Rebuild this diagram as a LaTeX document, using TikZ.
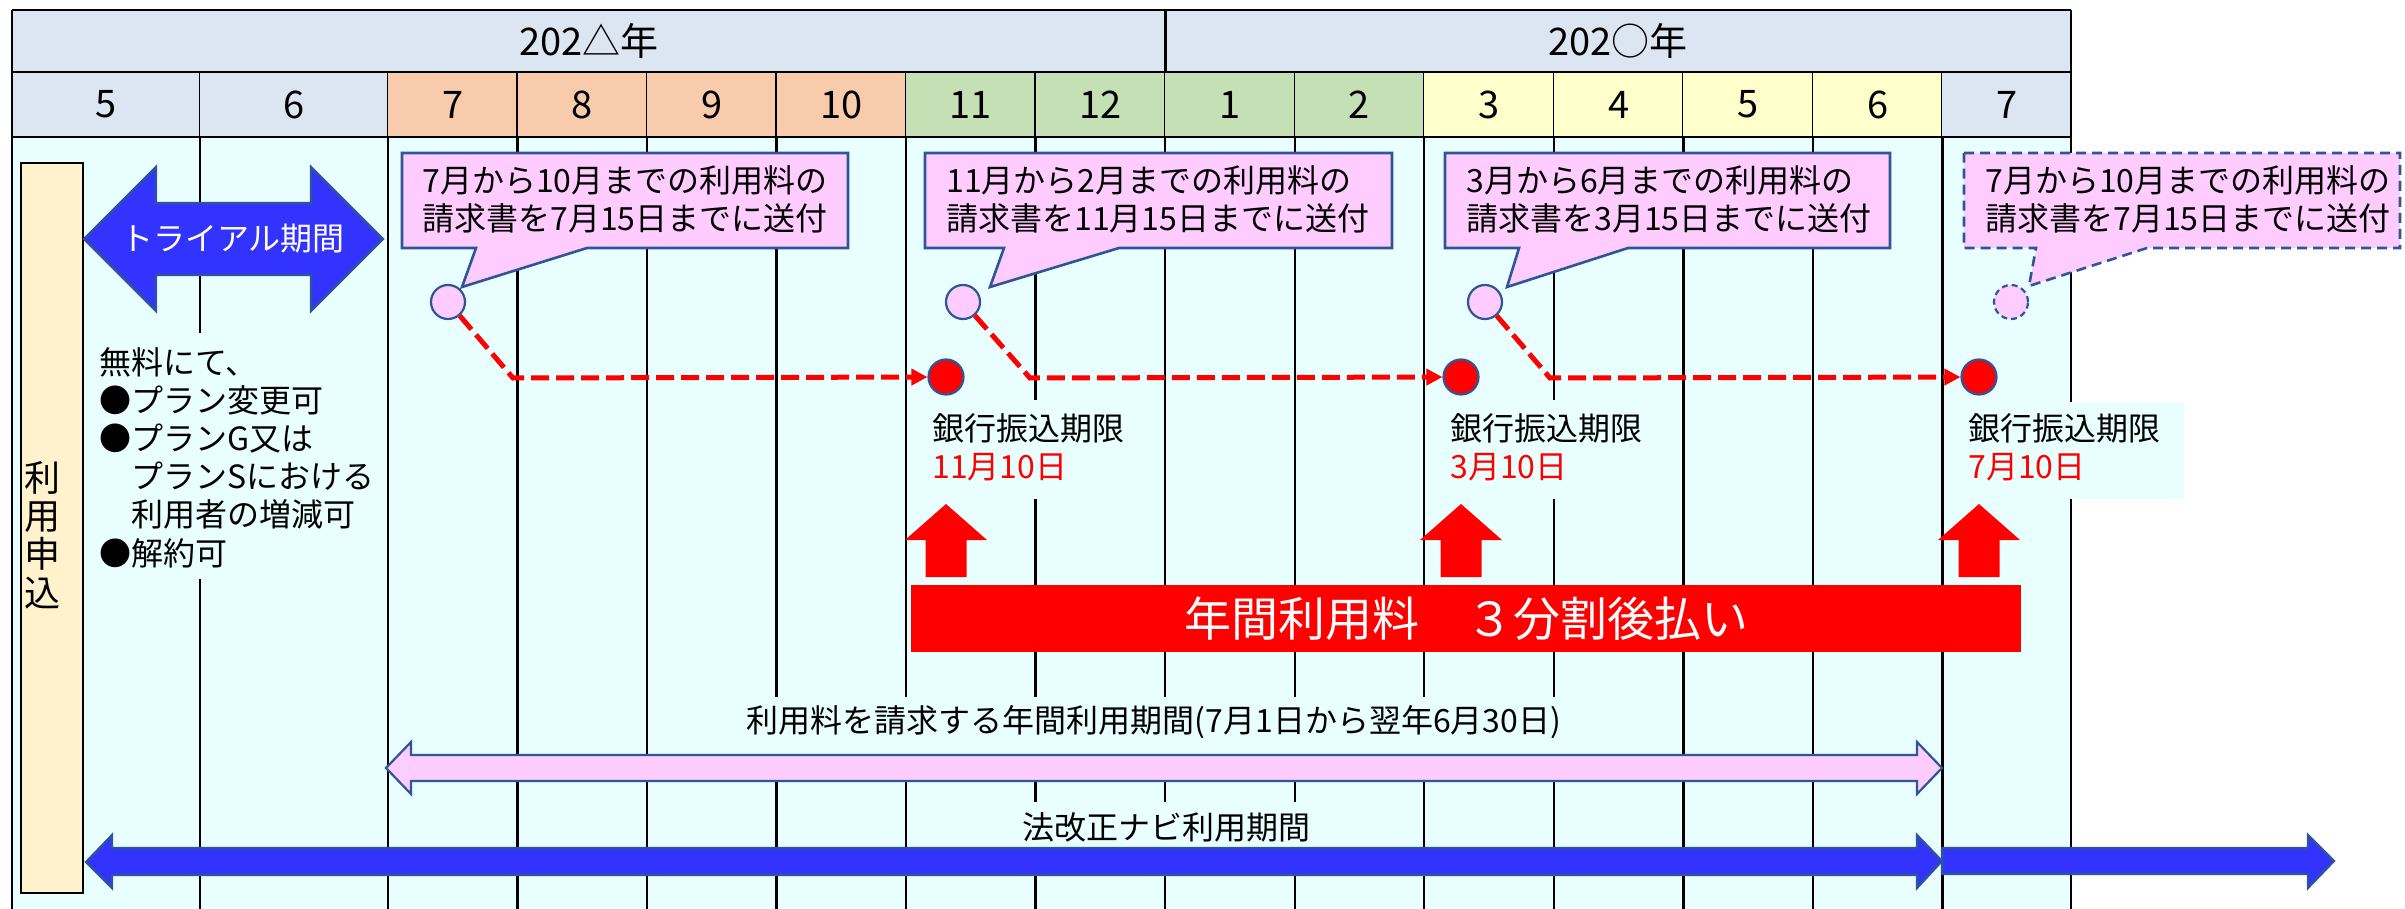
\documentclass[tikz,border=0pt]{standalone}
\usepackage{fontspec}
\setmainfont{Noto Sans CJK JP}
\usetikzlibrary{arrows.meta}
\definecolor{hdr}{HTML}{DCE6F2}
\definecolor{peach}{HTML}{F8CBAD}
\definecolor{lgreen}{HTML}{C5E0B4}
\definecolor{lyellow}{HTML}{FFFFCC}
\definecolor{bodyc}{HTML}{E9FFFF}
\definecolor{pinkf}{HTML}{FFCCFF}
\definecolor{bdr}{HTML}{2F5597}
\definecolor{blu}{HTML}{3333FF}
\definecolor{tallf}{HTML}{FFF2CC}
\begin{document}
\begin{tikzpicture}[x=0.5pt,y=-0.5pt,
  gridline/.style={line width=1.2pt,black},
  hdrline/.style={line width=1.4pt,black},
  txt/.style={font=\fontsize{16pt}{19.1pt}\selectfont,inner sep=0pt},
  big/.style={font=\fontsize{19pt}{22pt}\selectfont,inner sep=0pt},
  callout/.style={fill=pinkf,draw=bdr,line width=1.3pt,line join=miter},
  pc/.style={circle,fill=pinkf,draw=bdr,line width=1.1pt,minimum size=17pt,inner sep=0pt},
  rd/.style={circle,fill=red,draw=bdr,line width=1.1pt,minimum size=17.5pt,inner sep=0pt},
  reddash/.style={red,line width=2.5pt,dash pattern=on 9pt off 3.5pt,-{Triangle[length=8pt,width=8pt]}},
  cover/.style={fill=bodyc},
  blockarrow/.style={draw=bdr,line width=1.1pt,line join=miter},
]
\useasboundingbox (0,0) rectangle (2405,909);
% body background
\fill[bodyc] (12,137) rectangle (2071,909);
% year row
\fill[hdr] (12,10) rectangle (2071,72);
% month row, cells, grid lines
\foreach \a/\b/\m/\c [count=\i] in {12/200/5/hdr,200/388/6/hdr,388/517.5/7/peach,517.5/647/8/peach,647/776.6/9/peach,776.6/906.1/10/peach,906.1/1035.6/11/lgreen,1035.6/1165.2/12/lgreen,1165.2/1294.7/1/lgreen,1294.7/1424.2/2/lgreen,1424.2/1553.8/3/lyellow,1553.8/1683.3/4/lyellow,1683.3/1812.8/5/lyellow,1812.8/1942.4/6/lyellow,1942.4/2071/7/hdr}{
  \fill[\c] (\a,72) rectangle (\b,137);
  \node[big] (m\i) at ({(\a+\b)/2},104.5) {\m};
  \draw[gridline] (\b,72) -- (\b,909);
}
\draw[gridline] (12,10) -- (12,909);
\draw[gridline] (2071,10) -- (2071,909);
% cover boxes behind labels
\fill[cover] (92,333) rectangle (380,579);
\fill[cover] (920,400) rectangle (1140,499);
\fill[cover] (1440,400) rectangle (1660,499);
\fill[cover] (1956,402) rectangle (2184,499);
\fill[cover] (728,697) rectangle (1590,756);
\fill[cover] (1012,802) rectangle (1320,849);
% header lines
\draw[hdrline] (12,10) -- (2071,10);
\draw[hdrline] (12,72) -- (2071,72);
\draw[hdrline] (12,137) -- (2071,137);
\draw[hdrline] (1165.2,10) -- (1165.2,72);
\node[big] (y1) at (589,41) {202△年};
\node[big] (y2) at (1618,41) {202○年};
% application box
\draw[fill=tallf,line width=1.1pt] (21,163) rectangle (83,893);
\node[font=\fontsize{18pt}{19.15pt}\selectfont,align=center,inner sep=0pt] (apply) at (43,535) {利\\用\\申\\込};
% trial arrow
\draw[blockarrow,fill=blu] (84,239) -- (156,167) -- (156,203) -- (311,203) -- (311,167) -- (383,239) -- (311,311) -- (311,275) -- (156,275) -- (156,311) -- cycle;
\node[txt,white] (trial) at (233,239) {トライアル期間};
\node[txt,anchor=west,align=left] (free) at (99,457.5) {無料にて、\\●プラン変更可\\●プランG又は\\　プランSにおける\\　利用者の増減可\\●解約可};
% callouts
\draw[callout] (402,153) -- (848,153) -- (848,248) -- (587,248) -- (462,287) -- (476,248) -- (402,248) -- cycle;
\node[txt,anchor=west,align=left] (c1) at (422,199) {7月から10月までの利用料の\\請求書を7月15日までに送付};
\draw[callout] (925,153) -- (1392,153) -- (1392,248) -- (1119,248) -- (990,287) -- (1004,248) -- (925,248) -- cycle;
\node[txt,anchor=west,align=left] (c2) at (946,199) {11月から2月までの利用料の\\請求書を11月15日までに送付};
\draw[callout] (1445,153) -- (1890,153) -- (1890,248) -- (1628,248) -- (1507,287) -- (1519,248) -- (1445,248) -- cycle;
\node[txt,anchor=west,align=left] (c3) at (1466,199) {3月から6月までの利用料の\\請求書を3月15日までに送付};
\draw[callout,dash pattern=on 5pt off 3pt] (1964,153) -- (2400,153) -- (2400,248) -- (2147,248) -- (2029,286) -- (2036,248) -- (1964,248) -- cycle;
\node[txt,anchor=west,align=left] (c4) at (1985,199) {7月から10月までの利用料の\\請求書を7月15日までに送付};
% circles and dashed connectors
\node[pc] (pc1) at (448,302) {};
\node[pc] (pc2) at (963,302) {};
\node[pc] (pc3) at (1485,302) {};
\node[pc,dash pattern=on 3pt off 2pt] (pc4) at (2011,302) {};
\node[rd] (rd1) at (946,377) {};
\node[rd] (rd2) at (1461,377) {};
\node[rd] (rd3) at (1979,377) {};
\coordinate (k1) at (513,378);
\coordinate (k2) at (1030,378);
\coordinate (k3) at (1550,378);
\draw[reddash] (pc1) -- (k1) -- (rd1);
\draw[reddash] (pc2) -- (k2) -- (rd2);
\draw[reddash] (pc3) -- (k3) -- (rd3);
% bank deadline labels
\node[txt,anchor=west,align=left] (b1) at (932,447.5) {銀行振込期限\\\textcolor{red}{11月10日}};
\node[txt,anchor=west,align=left] (b2) at (1450,447.5) {銀行振込期限\\\textcolor{red}{3月10日}};
\node[txt,anchor=west,align=left] (b3) at (1968,447.5) {銀行振込期限\\\textcolor{red}{7月10日}};
% red up arrows
\foreach \cx in {946,1461,1979}{
  \fill[red] (\cx,504) -- ++(41,36) -- ++(-20.5,0) -- ++(0,37) -- ++(-41,0) -- ++(0,-37) -- ++(-20.5,0) -- cycle;
}
% red bar
\fill[red] (911,585) rectangle (2021,652);
\node[font=\fontsize{23.5pt}{26pt}\selectfont,white,inner sep=0pt] (bar) at (1466,618.5) {年間利用料　３分割後払い};
% annual period pink arrow
\node[txt] (annual) at (1154,722) {利用料を請求する年間利用期間(7月1日から翌年6月30日)};
\draw[blockarrow,fill=pinkf] (386,768) -- (411,742) -- (411,755) -- (1917,755) -- (1917,742) -- (1942,768) -- (1917,794) -- (1917,781) -- (411,781) -- (411,794) -- cycle;
% navi period blue arrows
\node[txt] (navi) at (1166,827) {法改正ナビ利用期間};
\draw[blockarrow,fill=blu] (86,862) -- (112,835) -- (112,848) -- (1917,848) -- (1917,835) -- (1942,861) -- (1917,888) -- (1917,875) -- (112,875) -- (112,888) -- cycle;
\draw[blockarrow,fill=blu] (1942,848) -- (2308,848) -- (2308,835) -- (2334,861) -- (2308,888) -- (2308,874) -- (1942,874) -- cycle;
\end{tikzpicture}
\end{document}
